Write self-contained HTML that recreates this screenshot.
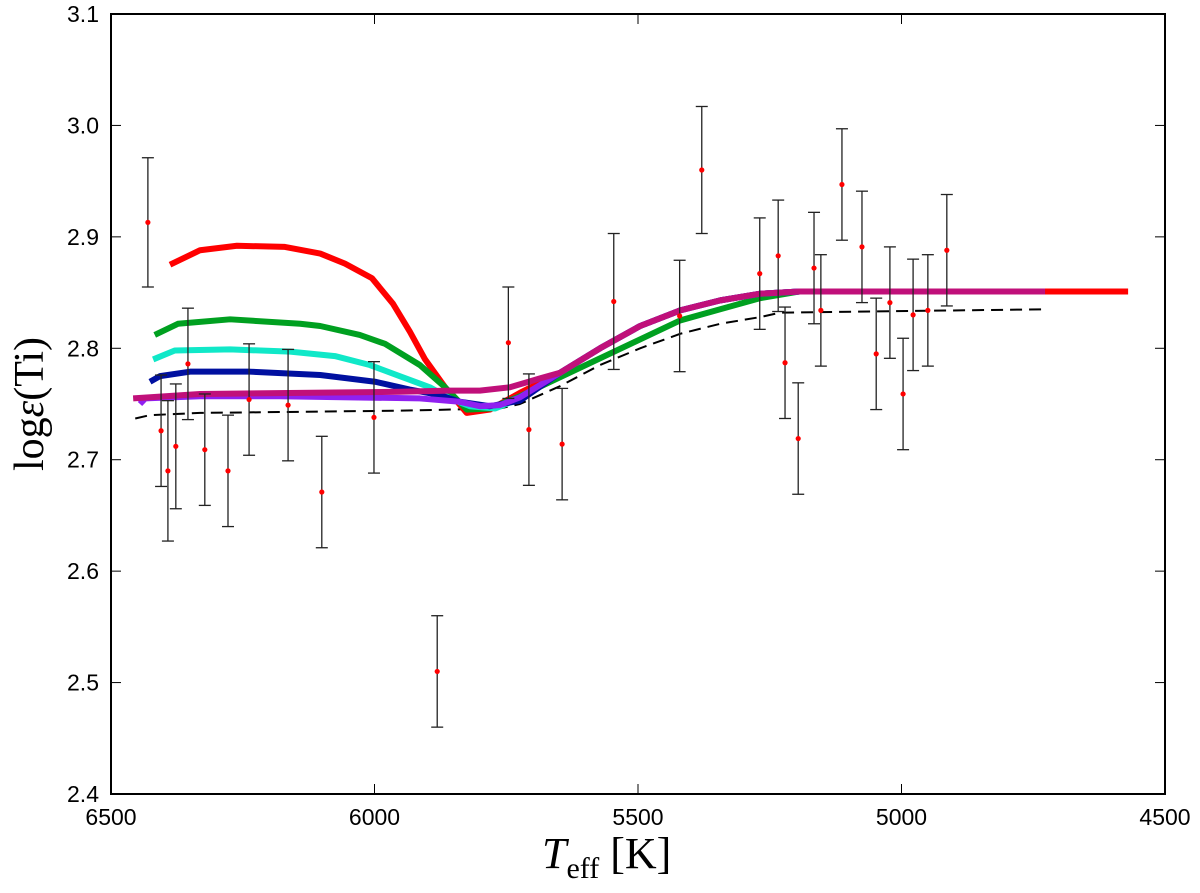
<!DOCTYPE html>
<html><head><meta charset="utf-8"><style>
body{margin:0;background:#fff}
svg text{font-family:"Liberation Sans",sans-serif}
</style></head><body>
<svg id="c" width="1200" height="888" xmlns="http://www.w3.org/2000/svg"></svg>
<script>
const xTicks=[6500,6000,5500,5000,4500];
const yTicks=[2.4,2.5,2.6,2.7,2.8,2.9,3.0,3.1];
const obsT=[6430,6405,6392,6377,6354,6322,6278,6238,6164,6100,6001,5881,5746,5707,5644,5546,5421,5379,5269,5234,5221,5196,5166,5153,5113,5075,5048,5022,4997,4978,4950,4914];
const obsV=[2.913,2.726,2.69,2.712,2.786,2.709,2.69,2.754,2.749,2.671,2.738,2.51,2.805,2.727,2.714,2.842,2.829,2.96,2.867,2.883,2.787,2.719,2.872,2.834,2.947,2.891,2.795,2.841,2.759,2.83,2.834,2.888];
const obsE=[0.058,0.05,0.063,0.056,0.05,0.05,0.05,0.05,0.05,0.05,0.05,0.05,0.05,0.05,0.05,0.061,0.05,0.057,0.05,0.05,0.05,0.05,0.05,0.05,0.05,0.05,0.05,0.05,0.05,0.05,0.05,0.05];
const tailT=[5648,5572,5496,5420,5344,5268,5193,4728];
const tailV=[2.778,2.8,2.82,2.834,2.843,2.849,2.851,2.851];
const redT=[6388,6331,6261,6170,6103,6056,6005,5965,5933,5904,5866,5825,5781,5724,...tailT,4570];
const redV=[2.875,2.888,2.892,2.891,2.885,2.876,2.863,2.84,2.815,2.79,2.765,2.742,2.745,2.76,...tailV,2.851];
const greenT=[6417,6373,6274,6141,6103,6028,5980,5914,5866,5825,5781,5724,5420,5344,5268,5193,4728];
const greenV=[2.812,2.822,2.826,2.822,2.82,2.812,2.804,2.785,2.765,2.745,2.746,2.757,2.825,2.835,2.845,2.851,2.851];
const cyanT=[6420,6379,6274,6160,6075,6009,5952,5895,5857,5819,5771,5724,...tailT];
const cyanV=[2.79,2.798,2.799,2.797,2.793,2.785,2.775,2.765,2.755,2.748,2.746,2.755,...tailV];
const blueT=[6426,6407,6350,6236,6103,5999,5933,5876,5838,5781,5724,...tailT];
const blueV=[2.77,2.775,2.779,2.779,2.776,2.77,2.763,2.758,2.752,2.748,2.753,...tailV];
const purpleT=[6445,6435,6331,6179,6046,5914,5838,5800,5762,5724,...tailT];
const purpleV=[2.75,2.755,2.757,2.757,2.756,2.755,2.752,2.748,2.749,2.756,...tailV];
const magT=[6458,6331,6141,5952,5857,5800,5743,5686,...tailT];
const magV=[2.755,2.759,2.76,2.761,2.762,2.762,2.765,2.773,...tailV];
const dashT=[6454,6426,6331,6141,5952,5762,5724,5648,5572,5496,5420,5344,5268,5230,4728];
const dashV=[2.737,2.74,2.742,2.743,2.744,2.746,2.75,2.766,2.785,2.8,2.813,2.822,2.828,2.832,2.835];

const L=111,R=1165,T=14,B=794;
const X=t=>L+(6500-t)/2000*(R-L);
const Y=v=>B-(v-2.4)/0.7*(B-T);
const svg=document.getElementById('c');
const NS='http://www.w3.org/2000/svg';
function mk(tag,attrs,parent){const e=document.createElementNS(NS,tag);for(const k in attrs)e.setAttribute(k,attrs[k]);(parent||svg).appendChild(e);return e;}
function line(ts,vs,color,w,name,dash){
  const e=mk('polyline',{points:ts.map((t,i)=>X(t)+','+Y(vs[i])).join(' '),fill:'none',stroke:color,'stroke-width':w,'stroke-linejoin':'round'});
  if(dash)e.setAttribute('stroke-dasharray',dash);
  
  
}
line(dashT,dashV,'#000',2,'model-dashed-line','12,7');
line(redT,redV,'#ff0000',6,'model-red-line');
line(greenT,greenV,'#00a020',6,'model-green-line');
line(cyanT,cyanV,'#10e8c8',6,'model-cyan-line');
line(blueT,blueV,'#0010a0',6,'model-blue-line');
line(purpleT,purpleV,'#9020f0',6,'model-purple-line');
line(magT,magV,'#c0107a',6,'model-magenta-line');
obsT.forEach((t,i)=>{
  const g=mk('g',{});
  
  
  const x=X(t),y1=Y(obsV[i]+obsE[i]),y2=Y(obsV[i]-obsE[i]);
  mk('line',{x1:x,x2:x,y1:y1,y2:y2,stroke:'#222','stroke-width':1.3},g);
  mk('line',{x1:x-6,x2:x+6,y1:y1,y2:y1,stroke:'#222','stroke-width':1.3},g);
  mk('line',{x1:x-6,x2:x+6,y1:y2,y2:y2,stroke:'#222','stroke-width':1.3},g);
  mk('circle',{cx:x,cy:Y(obsV[i]),r:2.6,fill:'#ff0000'},g);
});
const fr=mk('rect',{x:L,y:T,width:R-L,height:B-T,fill:'none',stroke:'#000','stroke-width':2});

xTicks.forEach(t=>{
  const x=X(t);
  mk('line',{x1:x,x2:x,y1:B,y2:B-10,stroke:'#000','stroke-width':1});
  mk('line',{x1:x,x2:x,y1:T,y2:T+10,stroke:'#000','stroke-width':1});
  const tx=mk('text',{x:x,y:B+31,'font-size':23,'text-anchor':'middle'});
  tx.textContent=t;
  
  
});
yTicks.forEach(v=>{
  const y=Y(v);
  mk('line',{x1:L,x2:L+10,y1:y,y2:y,stroke:'#000','stroke-width':1});
  mk('line',{x1:R,x2:R-10,y1:y,y2:y,stroke:'#000','stroke-width':1});
  const tx=mk('text',{x:L-12,y:y+8,'font-size':23,'text-anchor':'end'});
  tx.textContent=v.toFixed(1);
  
  
});
</script>
<div style="position:absolute;left:542px;top:828px;font:italic 44px 'Liberation Serif',serif">T<span style="font-style:normal;font-size:30px;position:relative;top:10px">eff</span><span style="font-style:normal"> [K]</span></div>
<div style="position:absolute;left:-80px;top:380px;width:220px;text-align:center;transform:rotate(-90deg);font:42px 'Liberation Serif',serif">log<i>ε</i>(Ti)</div>
</body></html>
